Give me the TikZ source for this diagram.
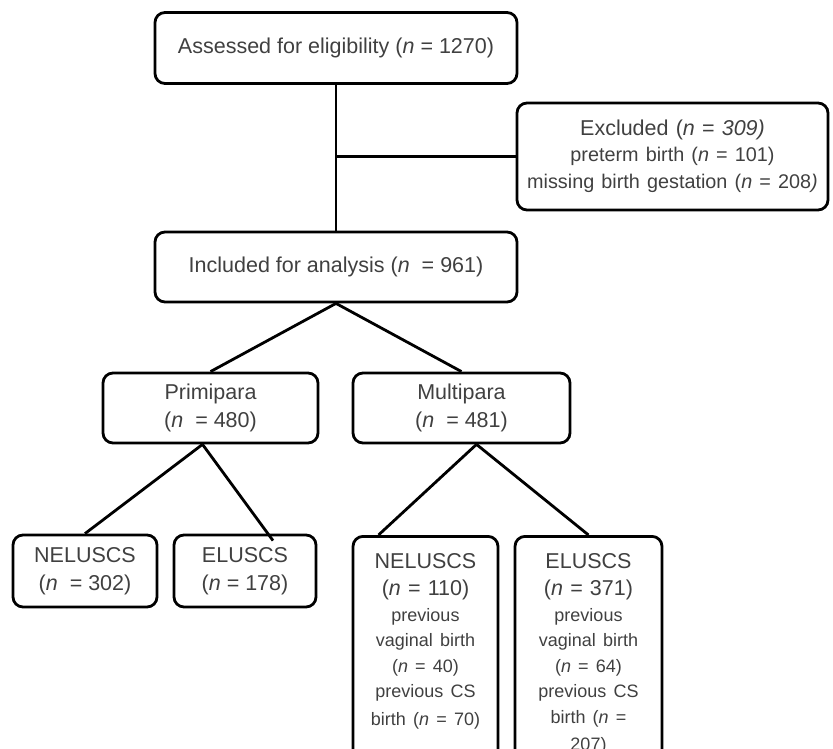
\documentclass[tikz,border=0pt]{standalone}
\usepackage{fontspec}
\setmainfont{Liberation Sans}
\usetikzlibrary{positioning}
\newcommand{\bigfs}{\fontsize{21.5}{27.5}\selectfont}
\newcommand{\midfs}{\fontsize{19.8}{25.5}\selectfont}
\newcommand{\smallfs}{\fontsize{18}{25.5}\selectfont}
\newcommand{\nn}{\textit{n}}
\tikzset{
  box/.style={draw, line width=2.8pt, rounded corners=10pt, text=black!75,
    font=\bigfs, align=center, inner sep=0pt},
  tallbox/.style={box, anchor=north, text width=135, inner xsep=5,
    inner ysep=17, text depth=200},
  link/.style={line width=2.8pt},
}
\begin{document}
\begin{tikzpicture}[x=1pt,y=-1pt]
\useasboundingbox (0,0) rectangle (833,749);
\clip (0,0) rectangle (833,749);
% top part
\node[box, minimum width=362, minimum height=71] (assessed) at (336,48)
  {Assessed for eligibility (\nn{} = 1270)};
\node[box, text width=300, inner xsep=5.5, minimum height=107] (excluded) at (672.5,156.5)
  {Excluded (\nn{} = \textit{309)}\par\midfs preterm birth (\nn{} = 101)\\missing birth gestation (\nn{} = 208\textit{)}};
\node[box, minimum width=362, minimum height=70] (included) at (336,267)
  {Included for analysis (\nn{}\ \ = 961)};
% parity
\node[box, minimum width=215, minimum height=70] (primi) at (210.5,408)
  {Primipara\\(\nn{}\ \ = 480)};
\node[box, minimum width=217, minimum height=70] (multi) at (461.5,408)
  {Multipara\\(\nn{}\ \ = 481)};
% outcome boxes
\node[box, minimum width=144, minimum height=72] (primnel) at (85,571)
  {NELUSCS\\(\nn{}\ \ = 302)};
\node[box, minimum width=142, minimum height=72] (primel) at (245,571)
  {ELUSCS\\(\nn{} = 178)};
\node[tallbox] (multnel) at (425.5,535)
  {NELUSCS\\(\nn{} = 110)\par\smallfs previous\\vaginal birth\\(\nn{} = 40)\\previous CS\\birth (\nn{} = 70)};
\node[tallbox, text width=137] (multel) at (588.5,535)
  {ELUSCS\\(\nn{} = 371)\par\smallfs previous\\vaginal birth\\(\nn{} = 64)\\previous CS\\birth (\nn{} =\\207)};
% connectors
\coordinate (split) at (assessed.south |- excluded.west);
\draw[link] (assessed) -- (included);
\draw[link] (split) -- (excluded.west);
\draw[link] (included.south) -- (primi.north);
\draw[link] (included.south) -- (multi.north);
\coordinate (pfork) at ([xshift=-8pt]primi.south);
\coordinate (pend) at ([xshift=28pt,yshift=-7pt]primel.north);
\draw[link] (pfork) -- (primnel.north);
\draw[link] (pfork) -- (pend);
\coordinate (mfork) at ([xshift=15pt]multi.south);
\coordinate (mend) at ([xshift=-47pt]multnel.north);
\draw[link] (mfork) -- (mend);
\draw[link] (mfork) -- (multel.north);
\end{tikzpicture}
\end{document}
